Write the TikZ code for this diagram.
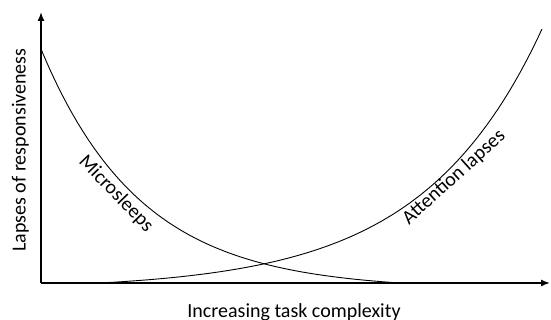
\documentclass[tikz,border=0pt]{standalone}
\usepackage{fontspec}
\setmainfont{Carlito}
\usetikzlibrary{arrows.meta}
\tikzset{
  axis/.style={line width=1.5pt,-{Latex[length=9pt,width=7pt]}},
  curve/.style={line width=0.9pt},
  lbl/.style={font=\fontsize{20}{24}\selectfont,inner sep=0pt}
}
\begin{document}
\begin{tikzpicture}[x=1pt,y=1pt]
\useasboundingbox (0,0) rectangle (551,320);
\coordinate (origin) at (41,37);
\coordinate (ytop) at (41,308);
\coordinate (xend) at (550,37);
\draw[axis] (origin) -- (ytop);
\draw[axis] (origin) -- (xend);
\draw[curve] plot[domain=0:359,samples=120,smooth] ({41+\x},{37+234*(exp(-\x/100)-0.0276)/0.9724});
\draw[curve] plot[domain=100:542,samples=120,smooth] (\x,{37+254*(exp((\x-542)/120)-0.0251)/0.9749});
\node[lbl,rotate=90,anchor=base] (ylab) at (25.5,170) {Lapses of responsiveness};
\node[lbl,anchor=base] (xlab) at (294,2) {Increasing task complexity};
\node[lbl,rotate=-46] (micro) at (116,126) {Microsleeps};
\node[lbl,rotate=42] (attn) at (454,142.5) {Attention lapses};
\end{tikzpicture}
\end{document}
